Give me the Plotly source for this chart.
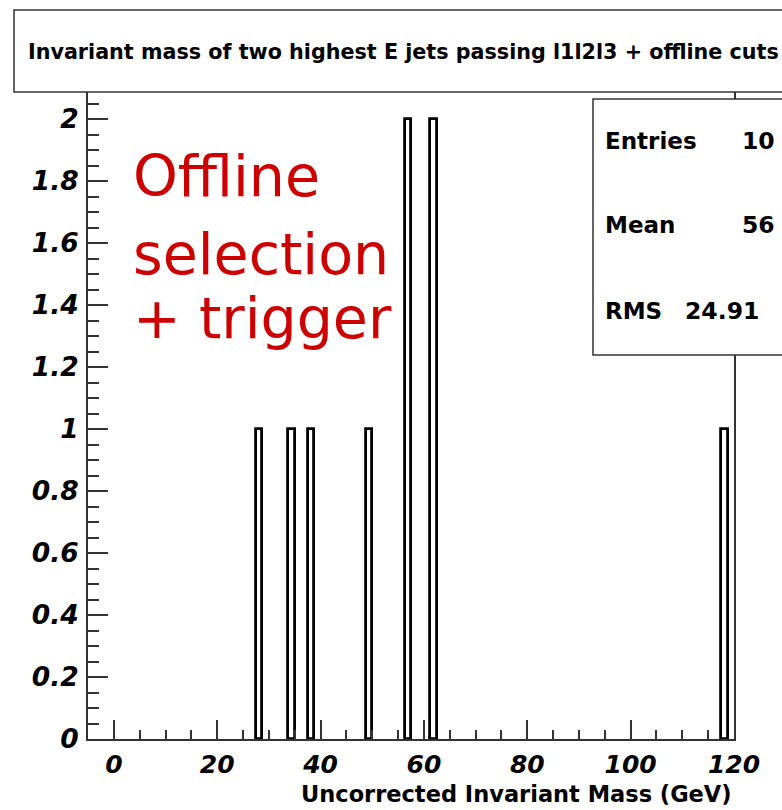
import plotly.graph_objects as go

# ---- data ----
bin_width = 1.25
mass_centers = [28.125, 34.375, 38.125, 49.375, 56.875, 61.875, 118.125]
counts = [1, 1, 1, 1, 2, 2, 1]

stat_labels = ["Entries", "Mean", "RMS"]
stat_values = ["10", "56", "24.91"]

title_text = "Invariant mass of two highest E jets passing l1l2l3 + offline cuts"
x_title = "Uncorrected Invariant Mass (GeV)"
overlay_lines = ["Offline", "selection", "+ trigger"]

# ---- layout geometry (pixels) ----
FW, FH = 782, 810
L, R, T, B = 88, 48, 88, 71
PW = FW - L - R
PH = FH - T - B


def px(x):
    return (x - L) / PW


def py(y):
    return (FH - B - y) / PH


fig = go.Figure()
fig.add_trace(go.Bar(
    x=mass_centers, y=counts, width=bin_width,
    marker=dict(color="white", line=dict(color="black", width=2.8)),
    showlegend=False, hoverinfo="x+y",
))

ytickfont = dict(family="DejaVu Sans", size=26.5, color="black", weight="bold", style="italic")
xtickfont = dict(family="DejaVu Sans", size=25, color="black", weight="bold", style="italic")

fig.update_layout(
    width=FW, height=FH,
    margin=dict(l=L, r=R, t=T, b=B, pad=0),
    paper_bgcolor="white", plot_bgcolor="white",
    bargap=0,
    xaxis=dict(
        range=[-5, 120], showgrid=False, zeroline=False,
        showline=True, linecolor="#333", linewidth=2, mirror=True,
        ticks="inside", ticklen=19, tickwidth=1.5, tickcolor="#333",
        tick0=0, dtick=20, tickfont=xtickfont, ticklabelstandoff=2,
        minor=dict(ticks="inside", ticklen=9, dtick=5, tick0=0, tickwidth=1.5, tickcolor="#333"),
    ),
    yaxis=dict(
        range=[0, 2.1], showgrid=False, zeroline=False,
        showline=True, linecolor="#333", linewidth=2, mirror=True,
        ticks="inside", ticklen=20, tickwidth=1.5, tickcolor="#333",
        tick0=0, dtick=0.2, tickfont=ytickfont, ticklabelstandoff=2,
        tickformat="~g",
        minor=dict(ticks="inside", ticklen=11, dtick=0.05, tick0=0, tickwidth=1.5, tickcolor="#333"),
    ),
)

shapes = [
    # title box
    dict(type="rect", xref="paper", yref="paper", layer="above",
         x0=px(14), x1=px(800), y0=py(92), y1=py(10),
         line=dict(color="#333", width=1.5), fillcolor="white"),
    # stats box
    dict(type="rect", xref="paper", yref="paper", layer="above",
         x0=px(593), x1=px(800), y0=py(355), y1=py(99),
         line=dict(color="#333", width=1.5), fillcolor="white"),
]
fig.update_layout(shapes=shapes)

ann = []
ann.append(dict(text=title_text, xref="paper", yref="paper", x=px(26), y=py(52),
                xanchor="left", yanchor="middle", showarrow=False,
                font=dict(family="DejaVu Sans", size=20.7, color="black", weight="bold")))
ann.append(dict(text=x_title, xref="paper", yref="paper", x=px(734), y=py(809),
                xanchor="right", yanchor="bottom", showarrow=False,
                font=dict(family="DejaVu Sans", size=22.5, color="black", weight="bold")))
stat_y = [141, 225, 311]
stat_vx = [740, 740, 683]
for lab, val, yy, vx in zip(stat_labels, stat_values, stat_y, stat_vx):
    ann.append(dict(text=lab, xref="paper", yref="paper", x=px(603), y=py(yy),
                    xanchor="left", yanchor="middle", showarrow=False,
                    font=dict(family="DejaVu Sans", size=23, color="black", weight="bold")))
    ann.append(dict(text=val, xref="paper", yref="paper", x=px(vx), y=py(yy),
                    xanchor="left", yanchor="middle", showarrow=False,
                    font=dict(family="DejaVu Sans", size=23.5, color="black", weight="bold")))
line_base = [211, 289, 353]
for txt, yb in zip(overlay_lines, line_base):
    ann.append(dict(text=txt, xref="paper", yref="paper", x=px(131), y=py(yb),
                    xanchor="left", yanchor="bottom", showarrow=False,
                    font=dict(family="DejaVu Sans", size=57, color="#cc0000")))
fig.update_layout(annotations=ann)

fig.write_html("out.html")
